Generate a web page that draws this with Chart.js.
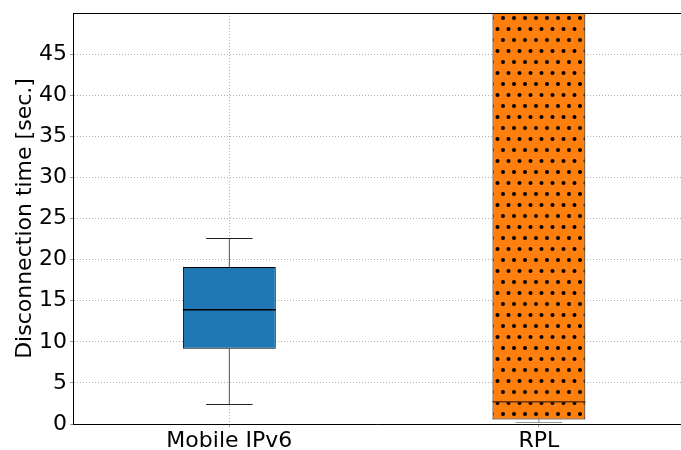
<!DOCTYPE html>
<html>
<head>
<meta charset="utf-8">
<script src="https://cdn.jsdelivr.net/npm/chart.js@4/dist/chart.umd.min.js"></script>
<style>
  html, body { margin: 0; padding: 0; background: #fff; }
  #wrap { width: 681px; height: 450px; }
</style>
</head>
<body>
<div id="wrap"><canvas id="c" width="681" height="450"></canvas></div>
<script>
// Disconnection time statistics per protocol (seconds)
const categories   = ['Mobile IPv6', 'RPL'];
const whiskerLow   = [2.45, 0.22];
const quartileLow  = [9.15, 0.55];
const medians      = [13.9, 2.7];
const quartileHigh = [19.1, 70];
const whiskerHigh  = [22.65, 95];
const yTicks       = [0, 5, 10, 15, 20, 25, 30, 35, 40, 45];

// Dotted hatch fill for the RPL box
function dotPattern() {
  const p = document.createElement('canvas');
  p.width = 11; p.height = 22;
  const g = p.getContext('2d');
  g.fillStyle = '#ff7f0e';
  g.fillRect(0, 0, 11, 22);
  g.fillStyle = '#000';
  [[8, 18], [2.5, 7]].forEach(([x, y]) => {
    g.beginPath(); g.arc(x, y, 2, 0, Math.PI * 2); g.fill();
  });
  return document.getElementById('c').getContext('2d').createPattern(p, 'repeat');
}

const boxStyle = [
  { fill: '#1f77b4', median: '#000', whisker: '#555', cap: '#222' },
  { fill: dotPattern(), median: '#6b3500', whisker: '#888', cap: '#999' }
];

// Whiskers, caps and medians drawn over the floating-bar boxes
const boxExtras = {
  id: 'boxExtras',
  afterDatasetsDraw(chart) {
    const { ctx, chartArea: a, scales: { x, y } } = chart;
    const meta = chart.getDatasetMeta(0);
    ctx.save();
    ctx.beginPath();
    ctx.rect(a.left, a.top, a.right - a.left, a.bottom - a.top + 1);
    ctx.clip();
    categories.forEach((_, i) => {
      const bar = meta.data[i];
      const cx = x.getPixelForValue(i + 1);
      const half = bar.width / 2;
      const capHalf = half / 2;
      const st = boxStyle[i];
      ctx.lineWidth = 1;
      // whiskers
      ctx.strokeStyle = st.whisker;
      ctx.beginPath();
      ctx.moveTo(cx, y.getPixelForValue(quartileLow[i]));
      ctx.lineTo(cx, y.getPixelForValue(whiskerLow[i]));
      ctx.moveTo(cx, y.getPixelForValue(quartileHigh[i]));
      ctx.lineTo(cx, y.getPixelForValue(whiskerHigh[i]));
      ctx.stroke();
      // caps
      ctx.strokeStyle = st.cap;
      ctx.beginPath();
      [whiskerLow[i], whiskerHigh[i]].forEach(v => {
        const py = Math.round(y.getPixelForValue(v)) + 0.5;
        ctx.moveTo(cx - capHalf, py);
        ctx.lineTo(cx + capHalf, py);
      });
      ctx.stroke();
      // median
      ctx.strokeStyle = st.median;
      ctx.lineWidth = 1.5;
      ctx.beginPath();
      const my = y.getPixelForValue(medians[i]);
      ctx.moveTo(cx - half, my);
      ctx.lineTo(cx + half, my);
      ctx.stroke();
    });
    ctx.restore();
    // top frame line
    ctx.save();
    ctx.strokeStyle = '#000';
    ctx.lineWidth = 1;
    ctx.beginPath();
    ctx.moveTo(a.left, a.top + 0.5);
    ctx.lineTo(chart.width, a.top + 0.5);
    ctx.stroke();
    ctx.restore();
  }
};

const font = { family: 'DejaVu Sans', size: 22 };

new Chart(document.getElementById('c'), {
  type: 'bar',
  data: {
    datasets: [{
      data: categories.map((_, i) => ({ x: i + 1, y: [quartileLow[i], quartileHigh[i]] })),
      backgroundColor: boxStyle.map(s => s.fill),
      borderColor: '#000',
      borderWidth: 1,
      borderSkipped: false,
      barPercentage: 0.3,
      categoryPercentage: 1
    }]
  },
  options: {
    responsive: false,
    animation: false,
    devicePixelRatio: 1,
    layout: { padding: { top: 13, right: 0, bottom: 0, left: 0 } },
    plugins: { legend: { display: false }, tooltip: { enabled: false } },
    scales: {
      x: {
        type: 'linear',
        offset: false,
        min: 0.495,
        max: 2.459,
        afterBuildTicks(s) { s.ticks = categories.map((_, i) => ({ value: i + 1 })); },
        afterFit(s) { s.height = 26; },
        ticks: {
          font, color: '#000', padding: 1,
          callback: v => categories[v - 1]
        },
        grid: {
          offset: false,
          color: '#b0b0b0', tickLength: 3,
          tickColor: '#999', tickBorderDash: []
        },
        border: { color: '#000', width: 1, dash: [1, 2] }
      },
      y: {
        min: 0,
        max: 50,
        afterBuildTicks(s) { s.ticks = yTicks.map(v => ({ value: v })); },
        afterFit(s) { s.width = 73; s.paddingTop = 0; s.paddingBottom = 0; },
        ticks: {
          font, color: '#000', padding: 3,
          callback: v => String(v)
        },
        grid: {
          color: '#b0b0b0', tickLength: 3,
          tickColor: '#999', tickBorderDash: []
        },
        border: { color: '#000', width: 1, dash: [1, 2] },
        title: {
          display: true, text: 'Disconnection time [sec.]',
          font, color: '#000', padding: { top: 12, bottom: 0 }
        }
      }
    }
  },
  plugins: [boxExtras]
});
</script>
</body>
</html>
